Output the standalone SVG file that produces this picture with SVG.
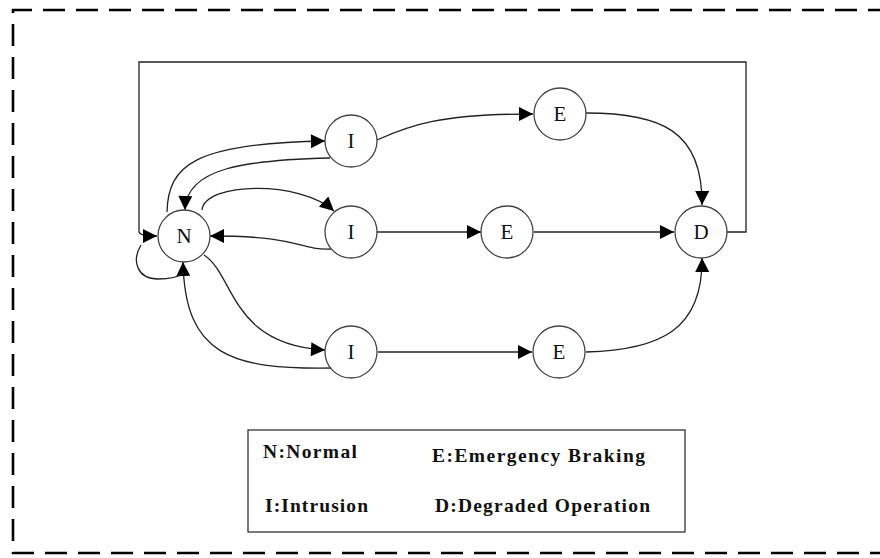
<svg xmlns="http://www.w3.org/2000/svg" width="880" height="558" viewBox="0 0 880 558">
  <style>
    .frame { fill: none; stroke: #000; stroke-width: 2.6; stroke-dasharray: 22 11; }
    .state circle { fill: #fff; stroke: #444; stroke-width: 1.3; }
    .state text { font-family: "Liberation Serif", "Times New Roman", serif; font-size: 21px; fill: #111; text-anchor: middle; }
    .edge { fill: none; stroke: #222; stroke-width: 1.3; }
    .arrow { marker-end: url(#head); }
    .legend rect { fill: #fff; stroke: #333; stroke-width: 1.3; }
    .legend text { font-family: "Liberation Serif", "Times New Roman", serif; font-size: 19.5px; font-weight: bold; fill: #111; }
  </style>
  <defs>
    <marker id="head" viewBox="0 0 10 10" refX="10" refY="5" markerWidth="18" markerHeight="14" markerUnits="userSpaceOnUse" orient="auto">
      <path d="M0,0 L10,5 L0,10 Z" fill="#000"/>
    </marker>
  </defs>

  <rect width="880" height="558" fill="#fff"/>
  <!-- dashed outer frame, open to the right -->
  <path class="frame" d="M890,10 H13 V553 H890"/>

  <!-- transitions -->
  <g id="connectors">
    <!-- N -> I (upper) -->
    <path class="edge arrow" d="M167,212 C168,165 195,143 325,141"/>
    <!-- I (upper) -> N -->
    <path class="edge arrow" d="M330,158 C245,160 186,168 185,210"/>
    <!-- N -> I (middle) -->
    <path class="edge arrow" d="M202,210 C205,182 300,180 334,211"/>
    <!-- I (middle) -> N -->
    <path class="edge arrow" d="M331,249 C295,250 305,236 210,236"/>
    <!-- N -> I (lower) -->
    <path class="edge arrow" d="M204,255 C235,275 230,345 325,350"/>
    <!-- I (lower) -> N -->
    <path class="edge arrow" d="M334,368 C230,370 185,355 183,262"/>
    <!-- I -> E rows -->
    <path class="edge arrow" d="M377,140 C410,125 440,114 533,114"/>
    <path class="edge arrow" d="M377,232 H481"/>
    <path class="edge arrow" d="M378,352 H532"/>
    <!-- E -> D -->
    <path class="edge arrow" d="M586,113 C660,113 703,130 702,205"/>
    <path class="edge arrow" d="M534,232 H674"/>
    <path class="edge arrow" d="M586,352 C660,350 703,330 702,258"/>
    <!-- D -> N feedback around the top -->
    <path class="edge arrow" d="M727,232 H746 V62 H139 V232 Q140,236 157,236"/>
    <!-- N self loop -->
    <path class="edge" d="M141,245 C131,262 138,279 158,279 C172,279 180,276 184,273"/>
  </g>

  <!-- states -->
  <g id="node-N" class="state"><circle cx="184" cy="236" r="26"/><text x="184" y="243">N</text></g>
  <g id="node-I1" class="state"><circle cx="351" cy="141" r="26"/><text x="351" y="148">I</text></g>
  <g id="node-I2" class="state"><circle cx="351" cy="232" r="26"/><text x="351" y="239">I</text></g>
  <g id="node-I3" class="state"><circle cx="351" cy="352" r="26"/><text x="351" y="359">I</text></g>
  <g id="node-E1" class="state"><circle cx="560" cy="114" r="26"/><text x="560" y="121">E</text></g>
  <g id="node-E2" class="state"><circle cx="507" cy="232" r="26"/><text x="507" y="239">E</text></g>
  <g id="node-E3" class="state"><circle cx="559" cy="352" r="26"/><text x="559" y="359">E</text></g>
  <g id="node-D" class="state"><circle cx="701" cy="232" r="26"/><text x="701" y="239">D</text></g>

  <!-- key -->
  <g id="legend" class="legend">
    <rect x="248" y="430" width="437" height="102"/>
    <text x="263" y="458" textLength="94" lengthAdjust="spacing">N:Normal</text>
    <text x="432" y="462" textLength="213" lengthAdjust="spacing">E:Emergency Braking</text>
    <text x="265" y="512" textLength="103" lengthAdjust="spacing">I:Intrusion</text>
    <text x="435" y="512" textLength="215" lengthAdjust="spacing">D:Degraded Operation</text>
  </g>
</svg>
